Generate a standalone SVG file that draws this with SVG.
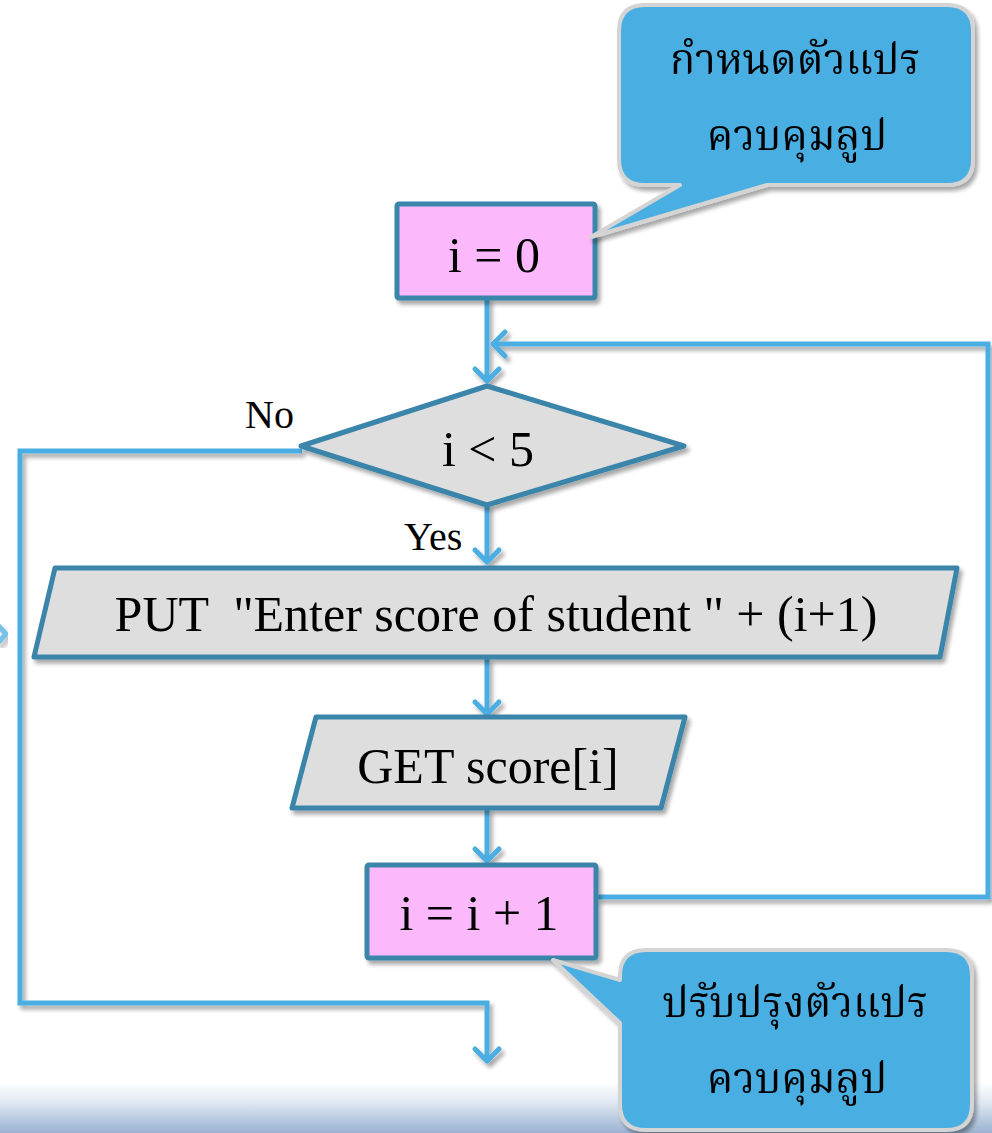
<svg xmlns="http://www.w3.org/2000/svg" width="992" height="1133" viewBox="0 0 992 1133">
  <defs>
    <style>
      .node { stroke: #3A84AA; stroke-width: 5; stroke-linejoin: round; }
      .proc { fill: #FBB8FB; }
      .io { fill: #DEDEDE; }
      .txt { font-family: "Liberation Serif", "Times New Roman", serif; font-size: 50px; fill: #000; text-anchor: middle; white-space: pre; }
      .lbl { font-family: "Liberation Serif", "Times New Roman", serif; font-size: 40px; fill: #000; }
      .wire { fill: none; stroke: #4BAEE3; stroke-width: 5; stroke-linejoin: miter; }
      .callout { fill: #4AAEE2; stroke: #D4D4D4; stroke-width: 4; stroke-linejoin: round; }
      .thai { font-family: "Noto Serif Thai", "Noto Sans Thai", "Tlwg Typo", "Loma", "Noto Sans", serif; font-size: 42px; fill: #000; text-anchor: middle; }
    </style>
    <marker id="arr" viewBox="-20 -16 24 32" markerWidth="24" markerHeight="32" refX="0" refY="0" orient="auto" markerUnits="userSpaceOnUse">
      <path d="M-13,-12 L-1,0 L-13,12" fill="none" stroke="#4BAEE3" stroke-width="5" stroke-linecap="round" stroke-linejoin="round"/>
    </marker>
    <filter id="shadow" x="-10%" y="-10%" width="130%" height="130%">
      <feGaussianBlur in="SourceAlpha" stdDeviation="2"/>
      <feOffset dx="3" dy="4" result="o"/>
      <feComponentTransfer><feFuncA type="linear" slope="0.35"/></feComponentTransfer>
      <feMerge><feMergeNode/><feMergeNode in="SourceGraphic"/></feMerge>
    </filter>
    <linearGradient id="floor" x1="0" y1="0" x2="0" y2="1">
      <stop offset="0" stop-color="#FFFFFF"/>
      <stop offset="0.4" stop-color="#E0E9F3"/>
      <stop offset="1" stop-color="#9AB2D0"/>
    </linearGradient>
  </defs>

  <!-- page background with soft floor band -->
  <rect x="0" y="0" width="992" height="1133" fill="#FFFFFF"/>
  <rect x="0" y="1082" width="992" height="51" fill="url(#floor)"/>
  <path d="M-3,624 L6,634 L-3,644" fill="none" stroke="#4BAEE3" stroke-width="5" opacity="0.75" filter="url(#shadow)"/>

  <!-- connectors -->
  <g id="connectors" filter="url(#shadow)">
    <path class="wire" d="M487,298 L487,382" marker-end="url(#arr)"/>
    <path class="wire" d="M597,897 L988,897 L988,344 L492,344" marker-end="url(#arr)"/>
    <path class="wire" d="M487,505 L487,563" marker-end="url(#arr)"/>
    <path class="wire" d="M487,658 L487,715" marker-end="url(#arr)"/>
    <path class="wire" d="M487,809 L487,862" marker-end="url(#arr)"/>
    <path class="wire" d="M302,451 L20,451 L20,1003 L487,1003 L487,1062" marker-end="url(#arr)"/>
  </g>

  <!-- labels on branches -->
  <text class="lbl" x="245" y="428">No</text>
  <text class="lbl" x="404" y="550">Yes</text>

  <g id="init" filter="url(#shadow)">
    <rect class="node proc" x="397" y="204" width="198" height="94" rx="2"/>
    <text class="txt" x="494" y="272">i = 0</text>
  </g>

  <g id="cond" filter="url(#shadow)">
    <polygon class="node io" points="487,386 684,446 487,505 301,446"/>
    <text class="txt" x="488" y="466">i &lt; 5</text>
  </g>

  <g id="put" filter="url(#shadow)">
    <polygon class="node io" points="55,568 957,568 940,657 34,657"/>
    <text class="txt" x="496" y="631" xml:space="preserve">PUT  "Enter score of student " + (i+1)</text>
  </g>

  <g id="get" filter="url(#shadow)">
    <polygon class="node io" points="316,717 685,717 661,808 292,808"/>
    <text class="txt" x="488" y="783">GET score[i]</text>
  </g>

  <g id="incr" filter="url(#shadow)">
    <rect class="node proc" x="367" y="865" width="229" height="93" rx="2"/>
    <text class="txt" x="479" y="930">i = i + 1</text>
  </g>

  <g id="note-init" filter="url(#shadow)">
    <path class="callout" d="M645,5 L947,5 Q973,5 973,31 L973,159 Q973,185 947,185 L767,185 L591,237 L680,185 L645,185 Q619,185 619,159 L619,31 Q619,5 645,5 Z"/>
    <text class="thai" x="795" y="74">กำหนดตัวแปร</text>
    <text class="thai" x="797" y="150">ควบคุมลูป</text>
  </g>

  <g id="note-update" filter="url(#shadow)">
    <path class="callout" d="M646,950 L946,950 Q972,950 972,976 L972,1104 Q972,1130 946,1130 L646,1130 Q620,1130 620,1104 L620,1023 L553,960 L620,980 L620,976 Q620,950 646,950 Z"/>
    <text class="thai" x="795" y="1017">ปรับปรุงตัวแปร</text>
    <text class="thai" x="797" y="1093">ควบคุมลูป</text>
  </g>
</svg>
